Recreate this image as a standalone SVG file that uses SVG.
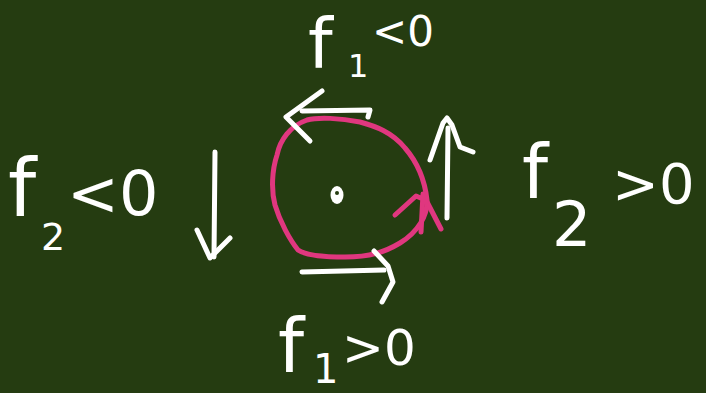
<svg xmlns="http://www.w3.org/2000/svg" width="706" height="393" viewBox="0 0 706 393">
<style>
.w{fill:none;stroke:#fff;stroke-width:5;stroke-linecap:round;stroke-linejoin:round}
.p{fill:none;stroke:#e0377f;stroke-width:5;stroke-linecap:round;stroke-linejoin:round}
text{fill:#fff;font-family:"DejaVu Sans","Liberation Sans",sans-serif}
</style>
<rect width="706" height="393" fill="#253c11"/>
<g id="label-top">
<text><tspan x="308" y="68" font-size="70">f</tspan><tspan x="348" y="77" font-size="32">1</tspan><tspan x="372" y="46" font-size="42">&lt;0</tspan></text>
</g>
<g id="label-left">
<text><tspan x="8" y="216" font-size="80">f</tspan><tspan x="41" y="250" font-size="38">2</tspan><tspan x="67" y="215" font-size="62">&lt;0</tspan></text>
</g>
<g id="label-right">
<text><tspan x="522" y="198" font-size="74">f</tspan><tspan x="552" y="246" font-size="62">2</tspan><tspan x="612" y="203" font-size="56">&gt;0</tspan></text>
</g>
<g id="label-bottom">
<text><tspan x="278" y="372" font-size="74">f</tspan><tspan x="313" y="383" font-size="40">1</tspan><tspan x="342" y="365" font-size="50">&gt;0</tspan></text>
</g>
<g id="center">
<ellipse cx="337" cy="195" rx="6.5" ry="9" fill="#fff"/>
<ellipse cx="337" cy="193" rx="2" ry="2" fill="#253c11"/>
</g>
<g id="orbit">
<path class="p" d="M307,120 C318,117 340,118 360,122 C375,126 392,132 405,148 C418,163 425,182 427,200 C428,215 418,232 400,243 C385,252 370,257 345,257 C320,257 305,255 298,250 C290,240 280,222 275,205 C271,190 272,170 277,155 C280,140 290,126 307,120 Z"/>
<path class="p" d="M395,215 L416,196 L423,199 M425,198 L441,229 M423,194 L421,232"/>
</g>
<g id="connectors">
<path class="w" d="M302,111 L370,110 L368,117"/>
<path class="w" d="M322,91 L286,117 L310,141"/>
<path class="w" d="M447,218 L448,128"/>
<path class="w" d="M430,160 L443,123 L447,118 L452,125 L460,147 L473,152"/>
<path class="w" d="M215,152 L214,257"/>
<path class="w" d="M197,230 L210,258 L230,238"/>
<path class="w" d="M302,272 L384,270"/>
<path class="w" d="M374,251 L388,266 L393,282 L382,302"/>
</g>
</svg>
